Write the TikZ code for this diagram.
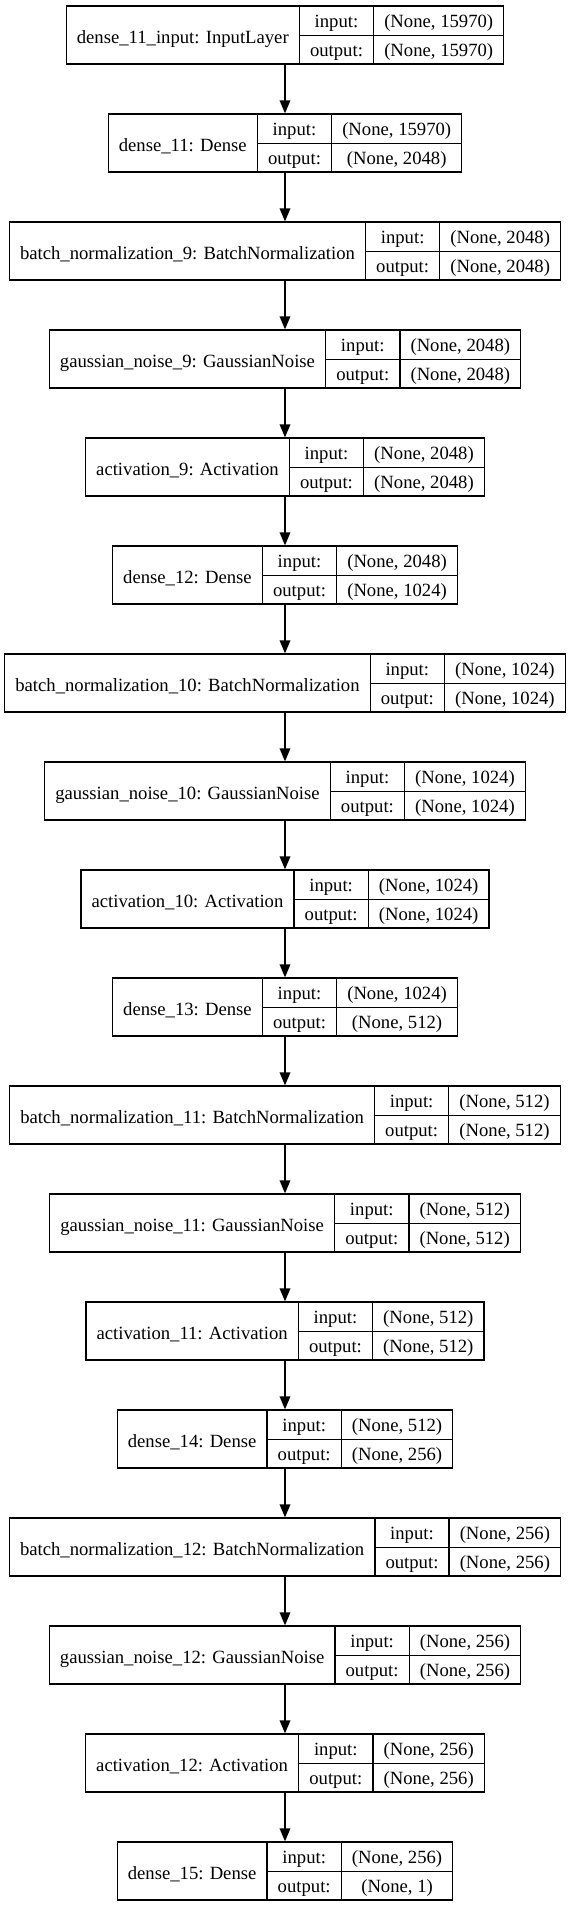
\documentclass[tikz,border=0pt]{standalone}
\usepackage{fontspec}
\setmainfont{Liberation Serif}
\usepackage{multirow}
\usetikzlibrary{arrows.meta}
\setlength{\arrayrulewidth}{1pt}
\setlength{\tabcolsep}{8pt}
\newcommand{\low}[1]{\raisebox{-1.2pt}{#1}}
\newcommand{\layerrec}[3]{\begin{tabular}{c|c|c}
\multirow{2}{*}[-2.2pt]{#1} & \low{input:} & \low{#2}\\ \cline{2-3}
 & \low{output:} & \low{#3}
\end{tabular}}

\begin{document}
\begin{tikzpicture}[x=0.75pt,y=-0.75pt,line width=1pt,
layer/.style={draw,inner sep=0pt,font=\fontsize{14pt}{21.75pt}\selectfont},
flow/.style={-{Triangle[length=9.75pt,width=8pt]}}]
\useasboundingbox (0,0) rectangle (570,1907);
\node[layer] (in11) at (285,35) {\layerrec{dense\_11\_input: InputLayer}{(None, 15970)}{(None, 15970)}};
\node[layer] (d11) at (285,143) {\layerrec{dense\_11: Dense}{(None, 15970)}{(None, 2048)}};
\node[layer] (bn9) at (285,251) {\layerrec{batch\_normalization\_9: BatchNormalization}{(None, 2048)}{(None, 2048)}};
\node[layer] (gn9) at (285,359) {\layerrec{gaussian\_noise\_9: GaussianNoise}{(None, 2048)}{(None, 2048)}};
\node[layer] (act9) at (285,467) {\layerrec{activation\_9: Activation}{(None, 2048)}{(None, 2048)}};
\node[layer] (d12) at (285,575) {\layerrec{dense\_12: Dense}{(None, 2048)}{(None, 1024)}};
\node[layer] (bn10) at (285,683) {\layerrec{batch\_normalization\_10: BatchNormalization}{(None, 1024)}{(None, 1024)}};
\node[layer] (gn10) at (285,791) {\layerrec{gaussian\_noise\_10: GaussianNoise}{(None, 1024)}{(None, 1024)}};
\node[layer] (act10) at (285,899) {\layerrec{activation\_10: Activation}{(None, 1024)}{(None, 1024)}};
\node[layer] (d13) at (285,1007) {\layerrec{dense\_13: Dense}{(None, 1024)}{(None, 512)}};
\node[layer] (bn11) at (285,1115) {\layerrec{batch\_normalization\_11: BatchNormalization}{(None, 512)}{(None, 512)}};
\node[layer] (gn11) at (285,1223) {\layerrec{gaussian\_noise\_11: GaussianNoise}{(None, 512)}{(None, 512)}};
\node[layer] (act11) at (285,1331) {\layerrec{activation\_11: Activation}{(None, 512)}{(None, 512)}};
\node[layer] (d14) at (285,1439) {\layerrec{dense\_14: Dense}{(None, 512)}{(None, 256)}};
\node[layer] (bn12) at (285,1547) {\layerrec{batch\_normalization\_12: BatchNormalization}{(None, 256)}{(None, 256)}};
\node[layer] (gn12) at (285,1655) {\layerrec{gaussian\_noise\_12: GaussianNoise}{(None, 256)}{(None, 256)}};
\node[layer] (act12) at (285,1763) {\layerrec{activation\_12: Activation}{(None, 256)}{(None, 256)}};
\node[layer] (d15) at (285,1871) {\layerrec{dense\_15: Dense}{(None, 256)}{(None, 1)}};
\draw[flow] (in11) edge (d11) (d11) edge (bn9) (bn9) edge (gn9) (gn9) edge (act9)
(act9) edge (d12) (d12) edge (bn10) (bn10) edge (gn10) (gn10) edge (act10)
(act10) edge (d13) (d13) edge (bn11) (bn11) edge (gn11) (gn11) edge (act11)
(act11) edge (d14) (d14) edge (bn12) (bn12) edge (gn12) (gn12) edge (act12)
(act12) edge (d15);
\end{tikzpicture}
\end{document}
